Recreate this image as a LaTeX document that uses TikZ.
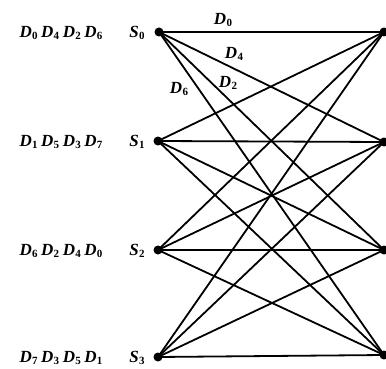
\documentclass[tikz,border=0pt]{standalone}
\usepackage{fontspec}
\setmainfont{Liberation Serif}
\newcommand{\Dn}[1]{\textit{D}\kern0.3pt\raisebox{-0.35ex}{\fontsize{11}{11}\selectfont #1}}
\newcommand{\Sn}[1]{\textit{S}\kern0.3pt\raisebox{-0.35ex}{\fontsize{11}{11}\selectfont #1}}
\begin{document}
\begin{tikzpicture}[x=1pt,y=-1pt,
  dot/.style={circle,fill=black,inner sep=0pt,minimum size=9pt},
  edge/.style={line width=1.8pt},
  lbl/.style={font=\fontsize{17}{19}\selectfont\bfseries,inner sep=0pt},
  elbl/.style={font=\fontsize{17}{19}\selectfont\bfseries,inner sep=0pt}]
\useasboundingbox (0,0) rectangle (386,369);
\node[dot] (L0) at (159,32) {};
\node[dot] (L1) at (158,141) {};
\node[dot] (L2) at (158,250) {};
\node[dot] (L3) at (158,357) {};
\node[dot] (R0) at (384,32) {};
\node[dot] (R1) at (384,142) {};
\node[dot] (R2) at (384,250) {};
\node[dot] (R3) at (384,355) {};
\foreach \i in {0,1,2,3}{
  \foreach \j in {0,1,2,3}{
    \draw[edge] (L\i.center) -- (R\j.center);
  }
}
\node[lbl] (s0) at (137,33) {\Sn{0}};
\node[lbl] (s1) at (137,142) {\Sn{1}};
\node[lbl] (s2) at (137,251) {\Sn{2}};
\node[lbl] (s3) at (137,358) {\Sn{3}};
\node[lbl] (q0) at (61,33) {\Dn{0}\kern3.5pt\Dn{4}\kern3.5pt\Dn{2}\kern3.5pt\Dn{6}};
\node[lbl] (q1) at (61,142) {\Dn{1}\kern3.5pt\Dn{5}\kern3.5pt\Dn{3}\kern3.5pt\Dn{7}};
\node[lbl] (q2) at (61,251) {\Dn{6}\kern3.5pt\Dn{2}\kern3.5pt\Dn{4}\kern3.5pt\Dn{0}};
\node[lbl] (q3) at (61,358) {\Dn{7}\kern3.5pt\Dn{3}\kern3.5pt\Dn{5}\kern3.5pt\Dn{1}};
\node[elbl] (e0) at (223,20) {\Dn{0}};
\node[elbl] (e4) at (234,54) {\Dn{4}};
\node[elbl] (e2) at (228,83) {\Dn{2}};
\node[elbl] (e6) at (179,89) {\Dn{6}};
\end{tikzpicture}
\end{document}
